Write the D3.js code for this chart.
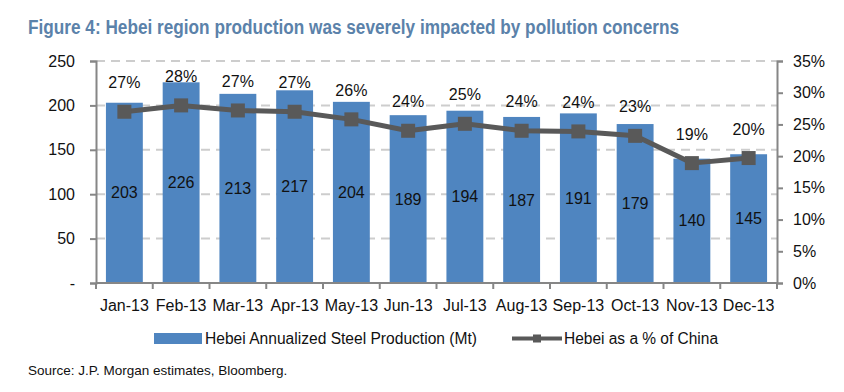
<!DOCTYPE html>
<html>
<head>
<meta charset="utf-8">
<script src="https://cdn.jsdelivr.net/npm/d3@7"></script>
<style>
  body { margin: 0; background: #fff; }
  svg { font-family: "Liberation Sans", Arial, sans-serif; }
</style>
</head>
<body>
<div id="chart"></div>
<script>
// chart data
const months = ["Jan-13", "Feb-13", "Mar-13", "Apr-13", "May-13", "Jun-13",
                "Jul-13", "Aug-13", "Sep-13", "Oct-13", "Nov-13", "Dec-13"];
const production = [203, 226, 213, 217, 204, 189, 194, 187, 191, 179, 140, 145];
const shareOfChina = [0.27, 0.28, 0.272, 0.27, 0.258, 0.24, 0.251, 0.24, 0.239, 0.232, 0.189, 0.197];
const shareLabels = ["27%", "28%", "27%", "27%", "26%", "24%", "25%", "24%", "24%", "23%", "19%", "20%"];
const leftTicks = [0, 50, 100, 150, 200, 250];
const rightTicks = [0, 0.05, 0.10, 0.15, 0.20, 0.25, 0.30, 0.35];

const width = 844, height = 392;
const plot = {left: 96, right: 777, top: 61, bottom: 283};

const barColor = "#4f85c0";
const lineColor = "#595959";
const axisColor = "#868686";

const svg = d3.select("#chart").append("svg")
    .attr("width", width)
    .attr("height", height);

// title
svg.append("text")
    .attr("x", 28)
    .attr("y", 34)
    .attr("font-size", 20)
    .attr("font-weight", "bold")
    .attr("fill", "#5b82aa")
    .attr("textLength", 651)
    .attr("lengthAdjust", "spacingAndGlyphs")
    .text("Figure 4: Hebei region production was severely impacted by pollution concerns");

// scales
const x = d3.scaleBand()
    .domain(months)
    .range([plot.left, plot.right])
    .paddingInner(0.35)
    .paddingOuter(0.175);

const y = d3.scaleLinear()
    .domain([0, 250])
    .range([plot.bottom, plot.top]);

const y2 = d3.scaleLinear()
    .domain([0, 0.35])
    .range([plot.bottom, plot.top]);

// gridlines
svg.append("g")
    .selectAll("line")
    .data(leftTicks.filter(d => d > 0))
    .join("line")
    .attr("x1", plot.left)
    .attr("x2", plot.right)
    .attr("y1", d => y(d))
    .attr("y2", d => y(d))
    .attr("stroke", "#cdcdcd")
    .attr("stroke-width", 2)
    .attr("stroke-dasharray", "9,6");

// bars
svg.append("g")
    .selectAll("rect")
    .data(production)
    .join("rect")
    .attr("x", (d, i) => x(months[i]))
    .attr("y", d => y(d))
    .attr("width", x.bandwidth())
    .attr("height", d => y(0) - y(d))
    .attr("fill", barColor);

// bar value labels (centered in bar)
svg.append("g")
    .selectAll("text")
    .data(production)
    .join("text")
    .attr("x", (d, i) => x(months[i]) + x.bandwidth() / 2)
    .attr("y", d => (y(0) + y(d)) / 2)
    .attr("dy", "0.35em")
    .attr("text-anchor", "middle")
    .attr("font-size", 16)
    .attr("fill", "#111")
    .text(d => d);

// axes
const leftAxis = d3.axisLeft(y)
    .tickValues(leftTicks)
    .tickSize(6)
    .tickPadding(15)
    .tickFormat(d => d === 0 ? "-" : d);

const gLeft = svg.append("g")
    .attr("transform", `translate(${plot.left},0)`)
    .call(leftAxis);

const rightAxis = d3.axisRight(y2)
    .tickValues(rightTicks)
    .tickSize(6)
    .tickPadding(10)
    .tickFormat(d3.format(".0%"));

const gRight = svg.append("g")
    .attr("transform", `translate(${plot.right},0)`)
    .call(rightAxis);

[gLeft, gRight].forEach(g => {
    g.select(".domain").attr("stroke", axisColor).attr("stroke-width", 2);
    g.selectAll(".tick line").attr("stroke", axisColor).attr("stroke-width", 2);
    g.selectAll(".tick text")
        .attr("font-size", 16)
        .attr("font-family", "Liberation Sans, Arial, sans-serif")
        .attr("fill", "#111");
});

// bottom axis: baseline, ticks between categories, labels
const gBottom = svg.append("g");
gBottom.append("line")
    .attr("x1", plot.left)
    .attr("x2", plot.right)
    .attr("y1", y(0))
    .attr("y2", y(0))
    .attr("stroke", axisColor)
    .attr("stroke-width", 2);

gBottom.selectAll(".xtick")
    .data(d3.range(months.length + 1))
    .join("line")
    .attr("class", "xtick")
    .attr("x1", i => plot.left + i * x.step())
    .attr("x2", i => plot.left + i * x.step())
    .attr("y1", y(0))
    .attr("y2", y(0) + 6)
    .attr("stroke", axisColor)
    .attr("stroke-width", 2);

gBottom.selectAll(".xlabel")
    .data(months)
    .join("text")
    .attr("class", "xlabel")
    .attr("x", d => x(d) + x.bandwidth() / 2)
    .attr("y", 311)
    .attr("text-anchor", "middle")
    .attr("font-size", 16)
    .attr("fill", "#111")
    .text(d => d);

// share line
const line = d3.line()
    .x((d, i) => x(months[i]) + x.bandwidth() / 2)
    .y(d => y2(d));

svg.append("path")
    .datum(shareOfChina)
    .attr("d", line)
    .attr("fill", "none")
    .attr("stroke", lineColor)
    .attr("stroke-width", 5)
    .attr("stroke-linejoin", "round");

const markerSize = 14;
svg.append("g")
    .selectAll("rect")
    .data(shareOfChina)
    .join("rect")
    .attr("x", (d, i) => x(months[i]) + x.bandwidth() / 2 - markerSize / 2)
    .attr("y", d => y2(d) - markerSize / 2)
    .attr("width", markerSize)
    .attr("height", markerSize)
    .attr("fill", lineColor);

// share labels above markers
svg.append("g")
    .selectAll("text")
    .data(shareOfChina)
    .join("text")
    .attr("x", (d, i) => x(months[i]) + x.bandwidth() / 2)
    .attr("y", d => y2(d) - 29)
    .attr("dy", "0.35em")
    .attr("text-anchor", "middle")
    .attr("font-size", 16)
    .attr("fill", "#111")
    .text((d, i) => shareLabels[i]);

// legend
const legend = svg.append("g");
legend.append("rect")
    .attr("x", 154)
    .attr("y", 333)
    .attr("width", 48)
    .attr("height", 11)
    .attr("fill", barColor);
legend.append("text")
    .attr("x", 205)
    .attr("y", 344)
    .attr("font-size", 16)
    .attr("fill", "#111")
    .attr("textLength", 272)
    .attr("lengthAdjust", "spacingAndGlyphs")
    .text("Hebei Annualized Steel Production (Mt)");

legend.append("line")
    .attr("x1", 512)
    .attr("x2", 562)
    .attr("y1", 338.5)
    .attr("y2", 338.5)
    .attr("stroke", lineColor)
    .attr("stroke-width", 4);
legend.append("rect")
    .attr("x", 533)
    .attr("y", 334.5)
    .attr("width", 8)
    .attr("height", 8)
    .attr("fill", lineColor);
legend.append("text")
    .attr("x", 564)
    .attr("y", 344)
    .attr("font-size", 16)
    .attr("fill", "#111")
    .attr("textLength", 154)
    .attr("lengthAdjust", "spacingAndGlyphs")
    .text("Hebei as a % of China");

// source note
svg.append("text")
    .attr("x", 28)
    .attr("y", 375)
    .attr("font-size", 13.5)
    .attr("fill", "#111")
    .text("Source: J.P. Morgan estimates, Bloomberg.");
</script>
</body>
</html>
